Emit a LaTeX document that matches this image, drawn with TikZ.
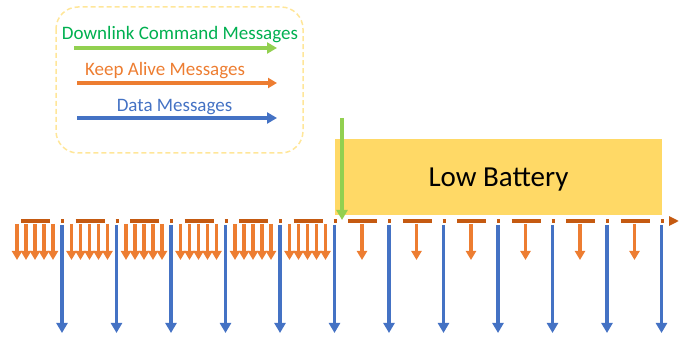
\documentclass[tikz,border=0pt]{standalone}
\usepackage{fontspec}
\setmainfont{Carlito}
\usepackage{xcolor}
\usetikzlibrary{arrows.meta}
\definecolor{datablue}{RGB}{68,114,196}
\definecolor{aliveorange}{RGB}{237,125,49}
\definecolor{tickorange}{RGB}{197,90,17}
\definecolor{cmdgreen}{RGB}{146,208,80}
\definecolor{cmdtext}{RGB}{0,176,80}
\definecolor{batteryyellow}{RGB}{255,217,102}
\definecolor{legendedge}{RGB}{255,230,153}

\begin{document}
\begin{tikzpicture}[x=1pt, y=-1pt,
    data/.style={datablue, line width=3.4pt, -{Triangle[length=10pt, width=11pt]}},
    alive/.style={aliveorange, line width=3.4pt, -{Triangle[length=9pt, width=10pt]}},
    command/.style={cmdgreen, line width=3.4pt, -{Triangle[length=10pt, width=11pt]}},
    legendtext/.style={font=\fontsize{19}{22}\selectfont, anchor=base}]
    \useasboundingbox (0, 0) rectangle (686, 339);

    % legend
    \draw[legendedge, line width=1.5pt, dash pattern=on 5pt off 3pt, rounded corners=22pt]
        (56, 7) rectangle (303, 153);
    \node[legendtext, cmdtext] (cmdlabel) at (180, 40) {Downlink Command Messages};
    \draw[command] (74, 48) -- (277, 48);
    \node[legendtext, aliveorange] (alivelabel) at (165, 76) {Keep Alive Messages};
    \draw[alive] (77, 83) -- (277, 83);
    \node[legendtext, datablue] (datalabel) at (174.5, 112) {Data Messages};
    \draw[data] (77, 118) -- (277, 118);

    % low battery window
    \node[fill=batteryyellow, minimum width=327pt, minimum height=76pt, text depth=0pt,
        font=\fontsize{29}{34}\selectfont] (battery) at (498.5, 177) {Low Battery};

    % time axis
    \draw[tickorange, line width=3.5pt, dash pattern=on 29pt off 11pt on 3pt off 11.5pt,
        -{Triangle[length=10pt, width=9pt]}] (21, 221) -- (679, 221);

    % data uplinks
    \foreach \k in {0,...,11}
        \draw[data] ({62+54.5*\k}, 225) -- ({62+54.5*\k}, 333);

    % keep alives, bursts before low battery, single ones after
    \foreach \k in {0,...,5}
        \foreach \d in {-45,-36,-27,-18,-9}
            \draw[alive] ({62+54.5*\k+\d}, 224) -- ++(0, 36);
    \foreach \k in {6,...,11}
        \draw[alive] ({62+54.5*\k-27}, 224) -- ++(0, 36);

    % downlink command
    \coordinate (cmdstart) at (342, 118);
    \coordinate (cmdend) at (342, 220);
    \draw[command] (cmdstart) -- (cmdend);
\end{tikzpicture}
\end{document}
